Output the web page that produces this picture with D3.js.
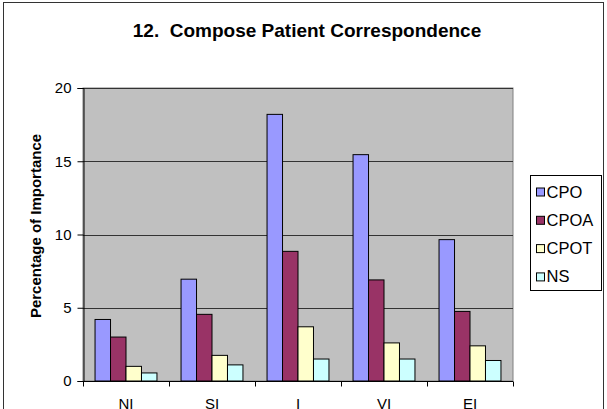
<!DOCTYPE html>
<html>
<head>
<meta charset="utf-8">
<script src="https://cdn.jsdelivr.net/npm/d3@7/dist/d3.min.js"></script>
<style>
  body { margin: 0; background: #fff; }
  svg { display: block; font-family: Arial, "Liberation Sans", sans-serif; }
</style>
</head>
<body>
<div id="chart"></div>
<script>
// categories and series
var categories = ["NI", "SI", "I", "VI", "EI"];
var seriesNames = ["CPO", "CPOA", "CPOT", "NS"];
var CPO  = [4.2, 6.95, 18.2, 15.45, 9.65];
var CPOA = [3.0, 4.55, 8.85, 6.9, 4.75];
var CPOT = [1.0, 1.75, 3.7, 2.6, 2.4];
var NS   = [0.55, 1.1, 1.5, 1.5, 1.4];
var yTicks = [0, 5, 10, 15, 20];
var seriesColors = ["#9999ff", "#993366", "#ffffcc", "#ccffff"];

var width = 607, height = 409;
var plot = {left: 83, right: 513, top: 88, bottom: 381};

var data = categories.map(function(c, i) {
  return {cat: c, values: [CPO[i], CPOA[i], CPOT[i], NS[i]]};
});

var svg = d3.select("#chart").append("svg")
  .attr("width", width).attr("height", height);

// outer chart border
svg.append("rect")
  .attr("x", 3.5).attr("y", 2.5)
  .attr("width", 600).attr("height", 420)
  .attr("fill", "#fff").attr("stroke", "#333").attr("stroke-width", 1);

var x = d3.scaleBand().domain(categories)
  .range([plot.left, plot.right]).paddingInner(0.28).paddingOuter(0.14);
var xs = d3.scaleBand().domain(seriesNames).range([0, x.bandwidth()]);
var y = d3.scaleLinear().domain([0, 20]).range([plot.bottom, plot.top]);

// plot background
svg.append("rect")
  .attr("x", plot.left).attr("y", plot.top)
  .attr("width", plot.right - plot.left).attr("height", plot.bottom - plot.top)
  .attr("fill", "#c0c0c0").attr("stroke", "#808080");

// gridlines
svg.append("g").selectAll("line")
  .data(yTicks.filter(function(t){ return t > 0; }))
  .enter().append("line")
    .attr("x1", plot.left).attr("x2", plot.right)
    .attr("y1", function(d){ return Math.round(y(d)) + 0.5; })
    .attr("y2", function(d){ return Math.round(y(d)) + 0.5; })
    .attr("stroke", "#333").attr("stroke-width", 1);

// bars
var groups = svg.append("g").selectAll("g")
  .data(data).enter().append("g")
    .attr("transform", function(d){ return "translate(" + x(d.cat) + ",0)"; });

groups.selectAll("rect")
  .data(function(d){ return d.values; })
  .enter().append("rect")
    .attr("x", function(d, i){ return xs(seriesNames[i]); })
    .attr("y", function(d){ return y(d); })
    .attr("width", xs.bandwidth())
    .attr("height", function(d){ return y(0) - y(d); })
    .attr("fill", function(d, i){ return seriesColors[i]; })
    .attr("stroke", "#000").attr("stroke-width", 1);

// y axis
var yAxis = svg.append("g")
  .attr("transform", "translate(" + (plot.left + 0.5) + ",0)")
  .call(d3.axisLeft(y).tickValues(yTicks).tickSize(6).tickPadding(6));
yAxis.select(".domain").attr("stroke", "#000");
yAxis.selectAll(".tick line").attr("stroke", "#000");
yAxis.selectAll("text").attr("font-size", 15).attr("fill", "#000")
  .attr("font-family", "Arial, 'Liberation Sans', sans-serif");

// x axis with ticks between categories
var xAxisG = svg.append("g")
  .attr("transform", "translate(0," + (plot.bottom + 0.5) + ")");
xAxisG.append("line")
  .attr("x1", plot.left).attr("x2", plot.right)
  .attr("stroke", "#000");
var step = (plot.right - plot.left) / categories.length;
xAxisG.selectAll(".sep")
  .data(d3.range(categories.length + 1))
  .enter().append("line")
    .attr("x1", function(i){ return Math.round(plot.left + i * step) + 0.5; })
    .attr("x2", function(i){ return Math.round(plot.left + i * step) + 0.5; })
    .attr("y1", 0).attr("y2", 5).attr("stroke", "#000");
xAxisG.selectAll(".lbl")
  .data(categories).enter().append("text")
    .attr("x", function(d){ return x(d) + x.bandwidth() / 2; })
    .attr("y", 27.5)
    .attr("text-anchor", "middle")
    .attr("font-size", 15)
    .text(function(d){ return d; });

// titles
svg.append("text")
  .attr("x", 307).attr("y", 37)
  .attr("text-anchor", "middle")
  .attr("font-size", 19).attr("font-weight", "bold")
  .style("white-space", "pre")
  .text("12.  Compose Patient Correspondence");

svg.append("text")
  .attr("transform", "translate(41," + 226 + ") rotate(-90)")
  .attr("text-anchor", "middle")
  .attr("font-size", 15).attr("font-weight", "bold")
  .text("Percentage of Importance");

// legend
var legend = svg.append("g").attr("transform", "translate(530.5,175.5)");
legend.append("rect")
  .attr("width", 71).attr("height", 115)
  .attr("fill", "#fff").attr("stroke", "#000");
var items = legend.selectAll(".item")
  .data(seriesNames).enter().append("g")
    .attr("transform", function(d, i){ return "translate(6," + (16.5 + i * 28.3) + ")"; });
items.append("rect")
  .attr("x", 0).attr("y", -4).attr("width", 8).attr("height", 8)
  .attr("fill", function(d, i){ return seriesColors[i]; })
  .attr("stroke", "#000");
items.append("text")
  .attr("x", 10).attr("y", 5.5)
  .attr("font-size", 16.5)
  .text(function(d){ return d; });
</script>
</body>
</html>
